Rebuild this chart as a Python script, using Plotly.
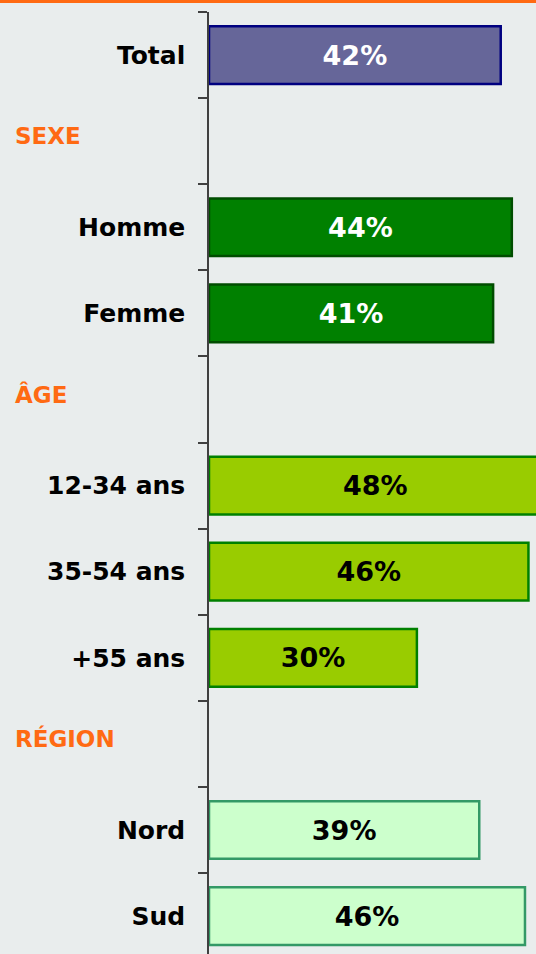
import plotly.graph_objects as go

# Data (labels as printed)
rows = ["Total", "SEXE", "Homme", "Femme", "ÂGE", "12-34 ans", "35-54 ans", "+55 ans", "RÉGION", "Nord", "Sud"]
headers = ["SEXE", "ÂGE", "RÉGION"]
values = [42.1, None, 43.7, 41.0, None, 48.0, 46.1, 30.0, None, 39.0, 45.6]
pct_labels = ["42%", "", "44%", "41%", "", "48%", "46%", "30%", "", "39%", "46%"]

fill_colors = ["#666699", "rgba(0,0,0,0)", "#008000", "#008000", "rgba(0,0,0,0)",
               "#99cc00", "#99cc00", "#99cc00", "rgba(0,0,0,0)", "#ccffcc", "#ccffcc"]
line_colors = ["#000080", "rgba(0,0,0,0)", "#004d00", "#004d00", "rgba(0,0,0,0)",
               "#008000", "#008000", "#008000", "rgba(0,0,0,0)", "#339966", "#339966"]
text_colors = ["white", "white", "white", "white", "black",
               "black", "black", "black", "black", "black", "black"]

BG = "#e9eded"
ORANGE = "#ff6a13"
FONT = "DejaVu Sans"

W, H = 536, 954
ML, MT = 209, 12
x_max = 47.19

fig = go.Figure()
fig.add_trace(go.Bar(
    y=rows, x=values, orientation="h",
    width=0.67,
    marker=dict(color=fill_colors, line=dict(color=line_colors, width=2.5)),
    text=pct_labels, textposition="inside", insidetextanchor="middle",
    textangle=0,
    textfont=dict(family=FONT, size=27, color=text_colors, weight="bold"),
    cliponaxis=True,
    hoverinfo="skip",
))

ticktext = ["" if r in headers else r for r in rows]

fig.update_layout(
    width=W, height=H,
    margin=dict(l=ML, r=0, t=MT, b=0, pad=0),
    paper_bgcolor=BG, plot_bgcolor=BG,
    showlegend=False,
    font=dict(family=FONT),
    uniformtext=dict(minsize=10, mode="show"),
    xaxis=dict(range=[0, x_max], visible=False, fixedrange=True),
    yaxis=dict(
        type="category",
        categoryorder="array", categoryarray=rows,
        range=[10.44, -0.5],
        tickmode="array", tickvals=rows, ticktext=ticktext,
        tickson="boundaries",
        ticks="outside", ticklen=9, tickwidth=1.5, tickcolor="#404040",
        showline=True, linecolor="#404040", linewidth=1.5,
        showgrid=False, zeroline=False,
        tickfont=dict(family=FONT, size=25, color="black", weight="bold"),
        ticklabelstandoff=17,
    ),
)

# section header labels
plot_w = W - ML
for h in headers:
    fig.add_annotation(
        x=(13 - ML) / plot_w, xref="paper", xanchor="left",
        y=h, yref="y", yanchor="middle", yshift=5,
        text=h, showarrow=False,
        font=dict(family=FONT, size=23, color=ORANGE, weight="bold"),
    )

# orange top rule
plot_h = H - MT
fig.add_shape(type="line", xref="paper", yref="paper",
              x0=-ML / plot_w, x1=1.0, y0=1 + 10.5 / plot_h, y1=1 + 10.5 / plot_h,
              line=dict(color=ORANGE, width=3))

fig.write_html("out.html", config={"displayModeBar": False},
               post_script="document.body.style.margin='0';document.body.style.overflow='hidden';")
